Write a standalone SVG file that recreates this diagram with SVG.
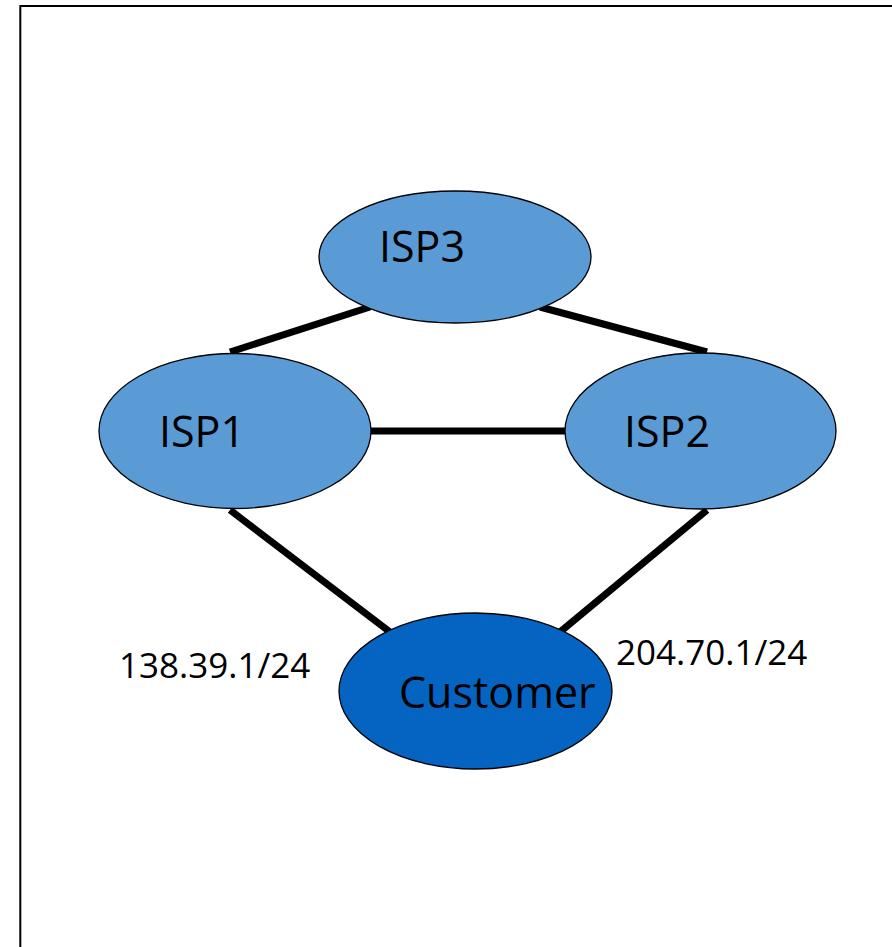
<svg xmlns="http://www.w3.org/2000/svg" width="892" height="947" viewBox="0 0 892 947">
  <style>
    .isp { fill: #5B9BD5; stroke: #000; stroke-width: 1.3; }
    .cust { fill: #0563C1; stroke: #000; stroke-width: 1.3; }
    .link { stroke: #000; stroke-width: 7; fill: none; }
    .lbl { font-family: "Open Sans", "Liberation Sans", sans-serif; fill: #000; }
    .name { font-size: 43px; }
    .addr { font-size: 35px; }
  </style>
  <rect x="0" y="0" width="892" height="947" fill="#fff"/>
  <!-- frame -->
  <path d="M20.3 950 V6 H900" fill="none" stroke="#000" stroke-width="2"/>

  <g id="links">
    <line class="link" x1="370" y1="307" x2="230" y2="352"/>
    <line class="link" x1="540" y1="307" x2="707" y2="352"/>
    <line class="link" x1="371" y1="431" x2="565" y2="431"/>
    <line class="link" x1="230" y1="510" x2="390" y2="632"/>
    <line class="link" x1="707" y1="510" x2="560" y2="632"/>
  </g>

  <g id="isp3">
    <ellipse class="isp" cx="455" cy="257" rx="136" ry="66"/>
    <text class="lbl name" x="379" y="262">ISP3</text>
  </g>
  <g id="isp1">
    <ellipse class="isp" cx="235" cy="431" rx="136" ry="77.5"/>
    <text class="lbl name" x="159" y="447">ISP1</text>
  </g>
  <g id="isp2">
    <ellipse class="isp" cx="700.5" cy="431" rx="135.5" ry="78"/>
    <text class="lbl name" x="624" y="447">ISP2</text>
  </g>
  <g id="customer">
    <ellipse class="cust" cx="475.5" cy="691" rx="136.5" ry="78"/>
    <text class="lbl name" x="399" y="708">Customer</text>
  </g>

  <g id="addresses">
    <text class="lbl addr" x="119" y="678">138.39.1/24</text>
    <text class="lbl addr" x="616" y="665">204.70.1/24</text>
  </g>
</svg>
